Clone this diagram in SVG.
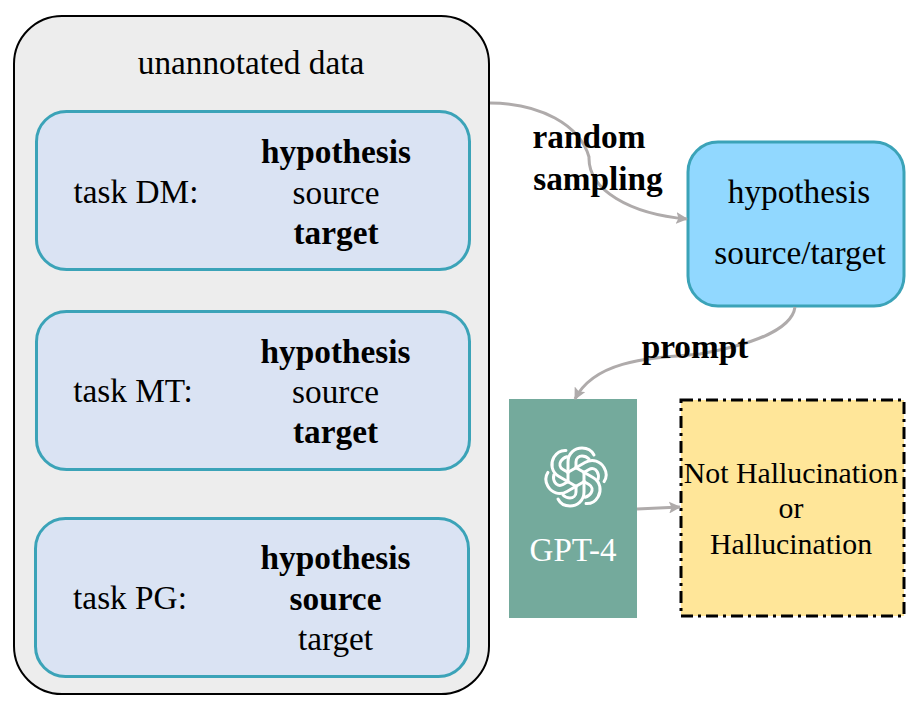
<svg xmlns="http://www.w3.org/2000/svg" width="916" height="704" viewBox="0 0 916 704">
<defs>
<style>
text{font-family:"Liberation Serif","Times New Roman",serif;fill:#000;text-anchor:middle}
.t{font-size:33.300px}
.b{font-size:33.300px;font-weight:bold}
.r{font-size:29.800px}
.task{fill:#dae3f3;stroke:#3ba3b8;stroke-width:3}
.c{fill:none;stroke:#afabab;stroke-width:3}
</style>
<marker id="arrow" viewBox="0 0 12 12" refX="11" refY="6" markerWidth="12" markerHeight="12" markerUnits="userSpaceOnUse" orient="auto"><path d="M0 0L12 6L0 12L2.500 6Z" fill="#afabab"/></marker>
<path id="arm" d="M-8 5V-15C-8 -24 -1 -29 6 -29C12 -29 16 -26 18 -22M0 -9V-15C0 -19 3 -21 6 -21C9 -21 11 -20 13 -18" fill="none" stroke="#fff" stroke-width="3" stroke-linecap="round"/>
</defs>
<g id="outer"><rect x="14" y="16" width="475" height="678" rx="48" fill="#ededed" stroke="#000" stroke-width="2"/><text class="t" x="251" y="74">unannotated data</text></g>
<g id="task-dm"><rect class="task" x="36.500" y="111.500" width="433" height="158" rx="30"/><text class="t" x="136" y="203">task DM:</text><text class="b" x="336" y="163">hypothesis</text><text class="t" x="336" y="204">source</text><text class="b" x="336" y="244">target</text></g>
<g id="task-mt"><rect class="task" x="36.500" y="311.500" width="433" height="158" rx="30"/><text class="t" x="133" y="402">task MT:</text><text class="b" x="335.500" y="362.500">hypothesis</text><text class="t" x="335.500" y="403">source</text><text class="b" x="335.500" y="443">target</text></g>
<g id="task-pg"><rect class="task" x="35.500" y="518.500" width="433" height="158" rx="30"/><text class="t" x="130" y="608.500">task PG:</text><text class="b" x="335.500" y="568.500">hypothesis</text><text class="b" x="335.500" y="609.500">source</text><text class="t" x="335.500" y="649.500">target</text></g>
<g id="sampled"><rect x="688" y="142" width="216" height="164" rx="30" fill="#91d8ff" stroke="#3ba3b8" stroke-width="3"/><text class="t" x="799" y="203">hypothesis</text><text class="t" x="800" y="264">source/target</text></g>
<g id="gpt4"><rect x="509" y="399" width="128" height="219" fill="#74aa9c"/>
<g transform="translate(576 477)"><use href="#arm"/><use href="#arm" transform="rotate(60)"/><use href="#arm" transform="rotate(120)"/><use href="#arm" transform="rotate(180)"/><use href="#arm" transform="rotate(240)"/><use href="#arm" transform="rotate(300)"/></g>
<text x="573" y="561" style="font-size:33px;fill:#fff">GPT-4</text></g>
<g id="result"><rect x="681" y="400" width="223" height="216" fill="#ffe699" stroke="#000" stroke-width="3" stroke-dasharray="12 5 3 5"/><text class="r" x="791" y="482.500">Not Hallucination</text><text class="r" x="791" y="518">or</text><text class="r" x="791" y="553.500">Hallucination</text></g>
<g id="connectors">
<path class="c" marker-end="url(#arrow)" d="M490 103C540 103 580 125 589 157C588 190 630 214 687 219"/>
<path class="c" marker-end="url(#arrow)" d="M795 307C792 330 750 345 700 354C650 358 595 360 575 399"/>
<path class="c" marker-end="url(#arrow)" d="M637 509L680 507"/>
</g>
<g id="labels"><text class="b" x="589" y="148">random</text><text class="b" x="598" y="189.500">sampling</text><text class="b" x="695" y="357.500">prompt</text></g>
</svg>
